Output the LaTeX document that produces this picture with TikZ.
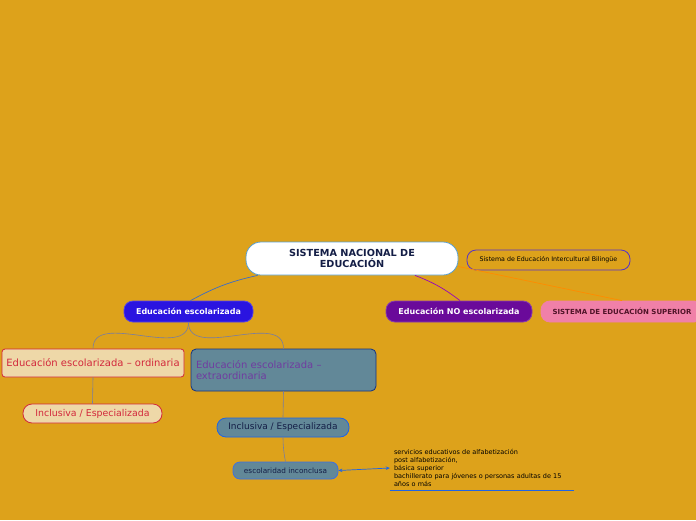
\documentclass[tikz,border=0pt]{standalone}
\usepackage{fontspec}
\setmainfont{DejaVu Sans}
\usetikzlibrary{arrows.meta, positioning, calc}
\definecolor{bgorange}{RGB}{221,162,27}
\definecolor{rootline}{RGB}{90,160,210}
\definecolor{rootink}{RGB}{20,30,70}
\definecolor{bilingline}{RGB}{85,50,200}
\definecolor{escblue}{RGB}{42,20,224}
\definecolor{nopurple}{RGB}{106,10,154}
\definecolor{suppink}{RGB}{240,128,168}
\definecolor{supink}{RGB}{80,20,40}
\definecolor{wheat}{RGB}{238,216,168}
\definecolor{redline}{RGB}{210,40,60}
\definecolor{steel}{RGB}{98,136,152}
\definecolor{navyline}{RGB}{20,50,130}
\definecolor{violetink}{RGB}{112,60,160}
\definecolor{brightblue}{RGB}{30,100,230}
\definecolor{grayline}{RGB}{120,125,160}
\definecolor{orangeline}{RGB}{255,140,0}

\begin{document}
\begin{tikzpicture}[
    x=1pt, y=-1pt,
    >={Stealth[length=4pt,width=3.5pt]},
    topic/.style={draw, rounded corners=9pt, line width=0.8pt, align=center, inner sep=0pt, minimum height=21pt},
    subtopic/.style={draw, rounded corners=3pt, line width=0.8pt, inner sep=0pt},
    link/.style={grayline, line width=0.6pt},
]
    \useasboundingbox (0,0) rectangle (696,520);
    \fill[bgorange] (0,0) rectangle (696,520);
    \node[topic, fill=white, draw=rootline, minimum width=212pt, minimum height=33pt, rounded corners=15pt,
          text=rootink, font=\bfseries\fontsize{9.7}{10.5}\selectfont] (root) at (352,258.5) {SISTEMA NACIONAL DE\\EDUCACIÓN};
    \node[topic, draw=bilingline, minimum width=163pt, minimum height=20pt,
          font=\fontsize{6.3}{7}\selectfont] (bilingue) at (548.5,260) {Sistema de Educación Intercultural Bilingüe};
    \node[topic, fill=escblue, draw=escblue!80!white, text=white, minimum width=129pt,
          font=\bfseries\fontsize{8}{9}\selectfont] (esc) at (188.5,311.5) {Educación escolarizada};
    \node[topic, fill=nopurple, draw=nopurple!80!white, text=white, minimum width=146pt,
          font=\bfseries\fontsize{8}{9}\selectfont] (noesc) at (459,311.5) {Educación NO escolarizada};
    \node[topic, fill=suppink, draw=suppink, text=supink, minimum width=162pt,
          font=\bfseries\fontsize{7}{8}\selectfont] (sup) at (622,311.5) {SISTEMA DE EDUCACIÓN SUPERIOR};
    \node[subtopic, fill=wheat, draw=redline, text=redline, minimum width=182pt, minimum height=28pt,
          font=\fontsize{10}{11}\selectfont] (ord) at (93,363) {Educación escolarizada – ordinaria};
    \node[subtopic, fill=steel, draw=navyline, text=violetink, minimum width=185pt, minimum height=42pt,
          rounded corners=5pt, align=left, text width=175pt,
          font=\fontsize{10}{11.5}\selectfont] (extra) at (283.5,370) {Educación escolarizada –\\extraordinaria};
    \node[topic, fill=wheat, draw=redline, text=redline, minimum width=139pt, minimum height=19pt,
          font=\fontsize{9.4}{10}\selectfont] (incl1) at (92.5,413.5) {Inclusiva / Especializada};
    \node[topic, fill=steel, draw=brightblue, text=rootink, minimum width=132pt, minimum height=19pt,
          font=\fontsize{9}{10}\selectfont] (incl2) at (283,427.5) {Inclusiva / Especializada};
    \node[topic, fill=steel, draw=rootline!70!blue, text=rootink, minimum width=105pt, minimum height=17pt,
          rounded corners=7pt, font=\fontsize{7.3}{8}\selectfont] (inconclusa) at (285.5,470.5) {escolaridad inconclusa};
    \node[align=left, text width=176pt, inner xsep=4pt, inner ysep=2pt, minimum height=44pt,
          font=\fontsize{6.5}{8}\selectfont] (servicios) at (482,468) {servicios educativos de alfabetización\\post alfabetización,\\básica superior\\bachillerato para jóvenes o personas adultas de 15\\años o más};
    \draw[brightblue, line width=1pt] (servicios.south west) -- (servicios.south east);

    % connectors
    \draw[brightblue!70!gray, line width=0.7pt] ([xshift=12pt]root.south west) to[bend right=8] ([xshift=2pt]esc.north);
    \draw[nopurple!70!magenta, line width=0.7pt] ([xshift=63pt]root.south) to[bend left=8] ([xshift=1pt]noesc.north);
    \draw[orangeline, line width=0.7pt] ([yshift=-8pt]root.east) -- (sup.north);
    \draw[link] (esc.south) to[out=-90,in=90] (ord.north);
    \draw[link] (esc.south) to[out=-90,in=90] (extra.north);
    \draw[link] (ord.south) -- (incl1.north);
    \draw[link] (extra.south) -- (incl2.north);
    \draw[link] (incl2.south) to[bend right=5] (inconclusa.north);
    \draw[brightblue, line width=0.7pt, <->] (inconclusa.east) -- (servicios.west);
\end{tikzpicture}
\end{document}
